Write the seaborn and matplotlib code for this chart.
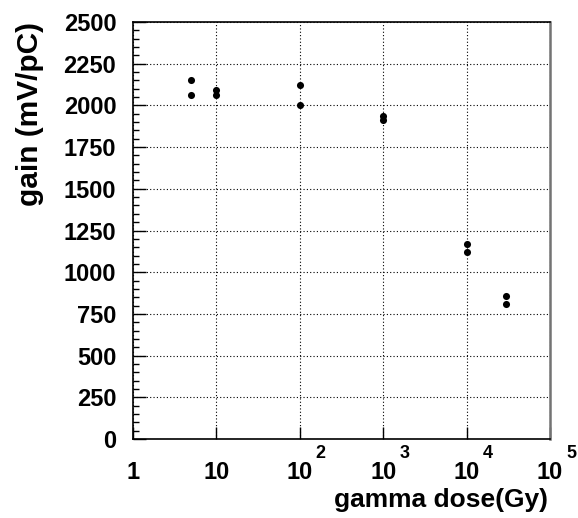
import matplotlib
matplotlib.use("Agg")
import matplotlib.pyplot as plt
import matplotlib.transforms as mtransforms
import seaborn as sns
import pandas as pd
import numpy as np
from matplotlib.ticker import FixedLocator, MultipleLocator, LogLocator, NullFormatter

sns.set_style("white")
plt.rcParams['font.family'] = ['Liberation Sans', 'DejaVu Sans']
plt.rcParams['font.weight'] = 'bold'
plt.rcParams['text.color'] = 'black'
plt.rcParams['axes.labelcolor'] = 'black'
plt.rcParams['xtick.color'] = 'black'
plt.rcParams['ytick.color'] = 'black'

# data
dose = [5, 5, 10, 10, 100, 100, 1000, 1000, 10000, 10000, 30000, 30000]
gain = [2155, 2064, 2094, 2064, 2125, 2000, 1935, 1910, 1172, 1124, 858, 812]
x_ticks = [1, 10, 100, 1000, 10000, 100000]
x_ticklabels = ["1", "10", "10", "10", "10", "10"]
x_exponents = ["", "", "2", "3", "4", "5"]
y_ticks = [0, 250, 500, 750, 1000, 1250, 1500, 1750, 2000, 2250, 2500]

df = pd.DataFrame({"dose": dose, "gain": gain})

fig = plt.figure(figsize=(5.78, 5.18), dpi=100)
ax = fig.add_axes([133/578, 1-439/518, (550-133)/578, (439-22)/518])

sns.scatterplot(data=df, x="dose", y="gain", ax=ax, color="black", s=26,
                linewidth=0, zorder=3)

ax.set_xscale("log")
ax.set_xlim(1, 1e5)
ax.set_ylim(0, 2500)

ax.xaxis.set_major_locator(FixedLocator(x_ticks))
ax.set_xticklabels(x_ticklabels)
ax.xaxis.set_minor_locator(LogLocator(base=10, subs=np.arange(2, 10)))
ax.xaxis.set_minor_formatter(NullFormatter())
ax.yaxis.set_major_locator(FixedLocator(y_ticks))
ax.set_yticklabels([str(v) for v in y_ticks])
ax.yaxis.set_minor_locator(MultipleLocator(50))

ax.tick_params(axis="both", which="major", direction="in", length=9, width=1,
               labelsize=17, colors="black")
ax.tick_params(axis="both", which="minor", direction="in", length=4.5, width=1,
               colors="black")
ax.tick_params(axis="x", which="major", pad=16)
ax.tick_params(axis="y", which="major", pad=12)
ax.tick_params(which="both", left=True, bottom=True, top=False, right=False)

# superscript exponents for the decade labels
sup_tr = mtransforms.offset_copy(ax.get_xaxis_transform(), fig=fig,
                                 x=16, y=-23, units='dots')
for xv, ex in zip(x_ticks, x_exponents):
    if ex:
        ax.text(xv, 0, ex, transform=sup_tr, ha="left", va="bottom",
                fontsize=13, fontweight="bold", color="black", clip_on=False)

ax.grid(True, which="major", color="black", linestyle=(0, (1, 2)), linewidth=0.8)

for s in ax.spines.values():
    s.set_color("black")
    s.set_linewidth(1.2)
ax.spines["right"].set_color("0.45")
ax.spines["right"].set_linewidth(1.8)

ax.set_xlabel("")
ax.set_ylabel("")
fig.text(548/578, 1-500/518, "gamma dose(Gy)", ha="right", va="center",
         fontsize=19, fontweight="bold")
fig.text(30/578, 1-22/518, "gain (mV/pC)", ha="center", va="top",
         rotation=90, fontsize=21.5, fontweight="bold")

fig.savefig("out.png", dpi=100)
